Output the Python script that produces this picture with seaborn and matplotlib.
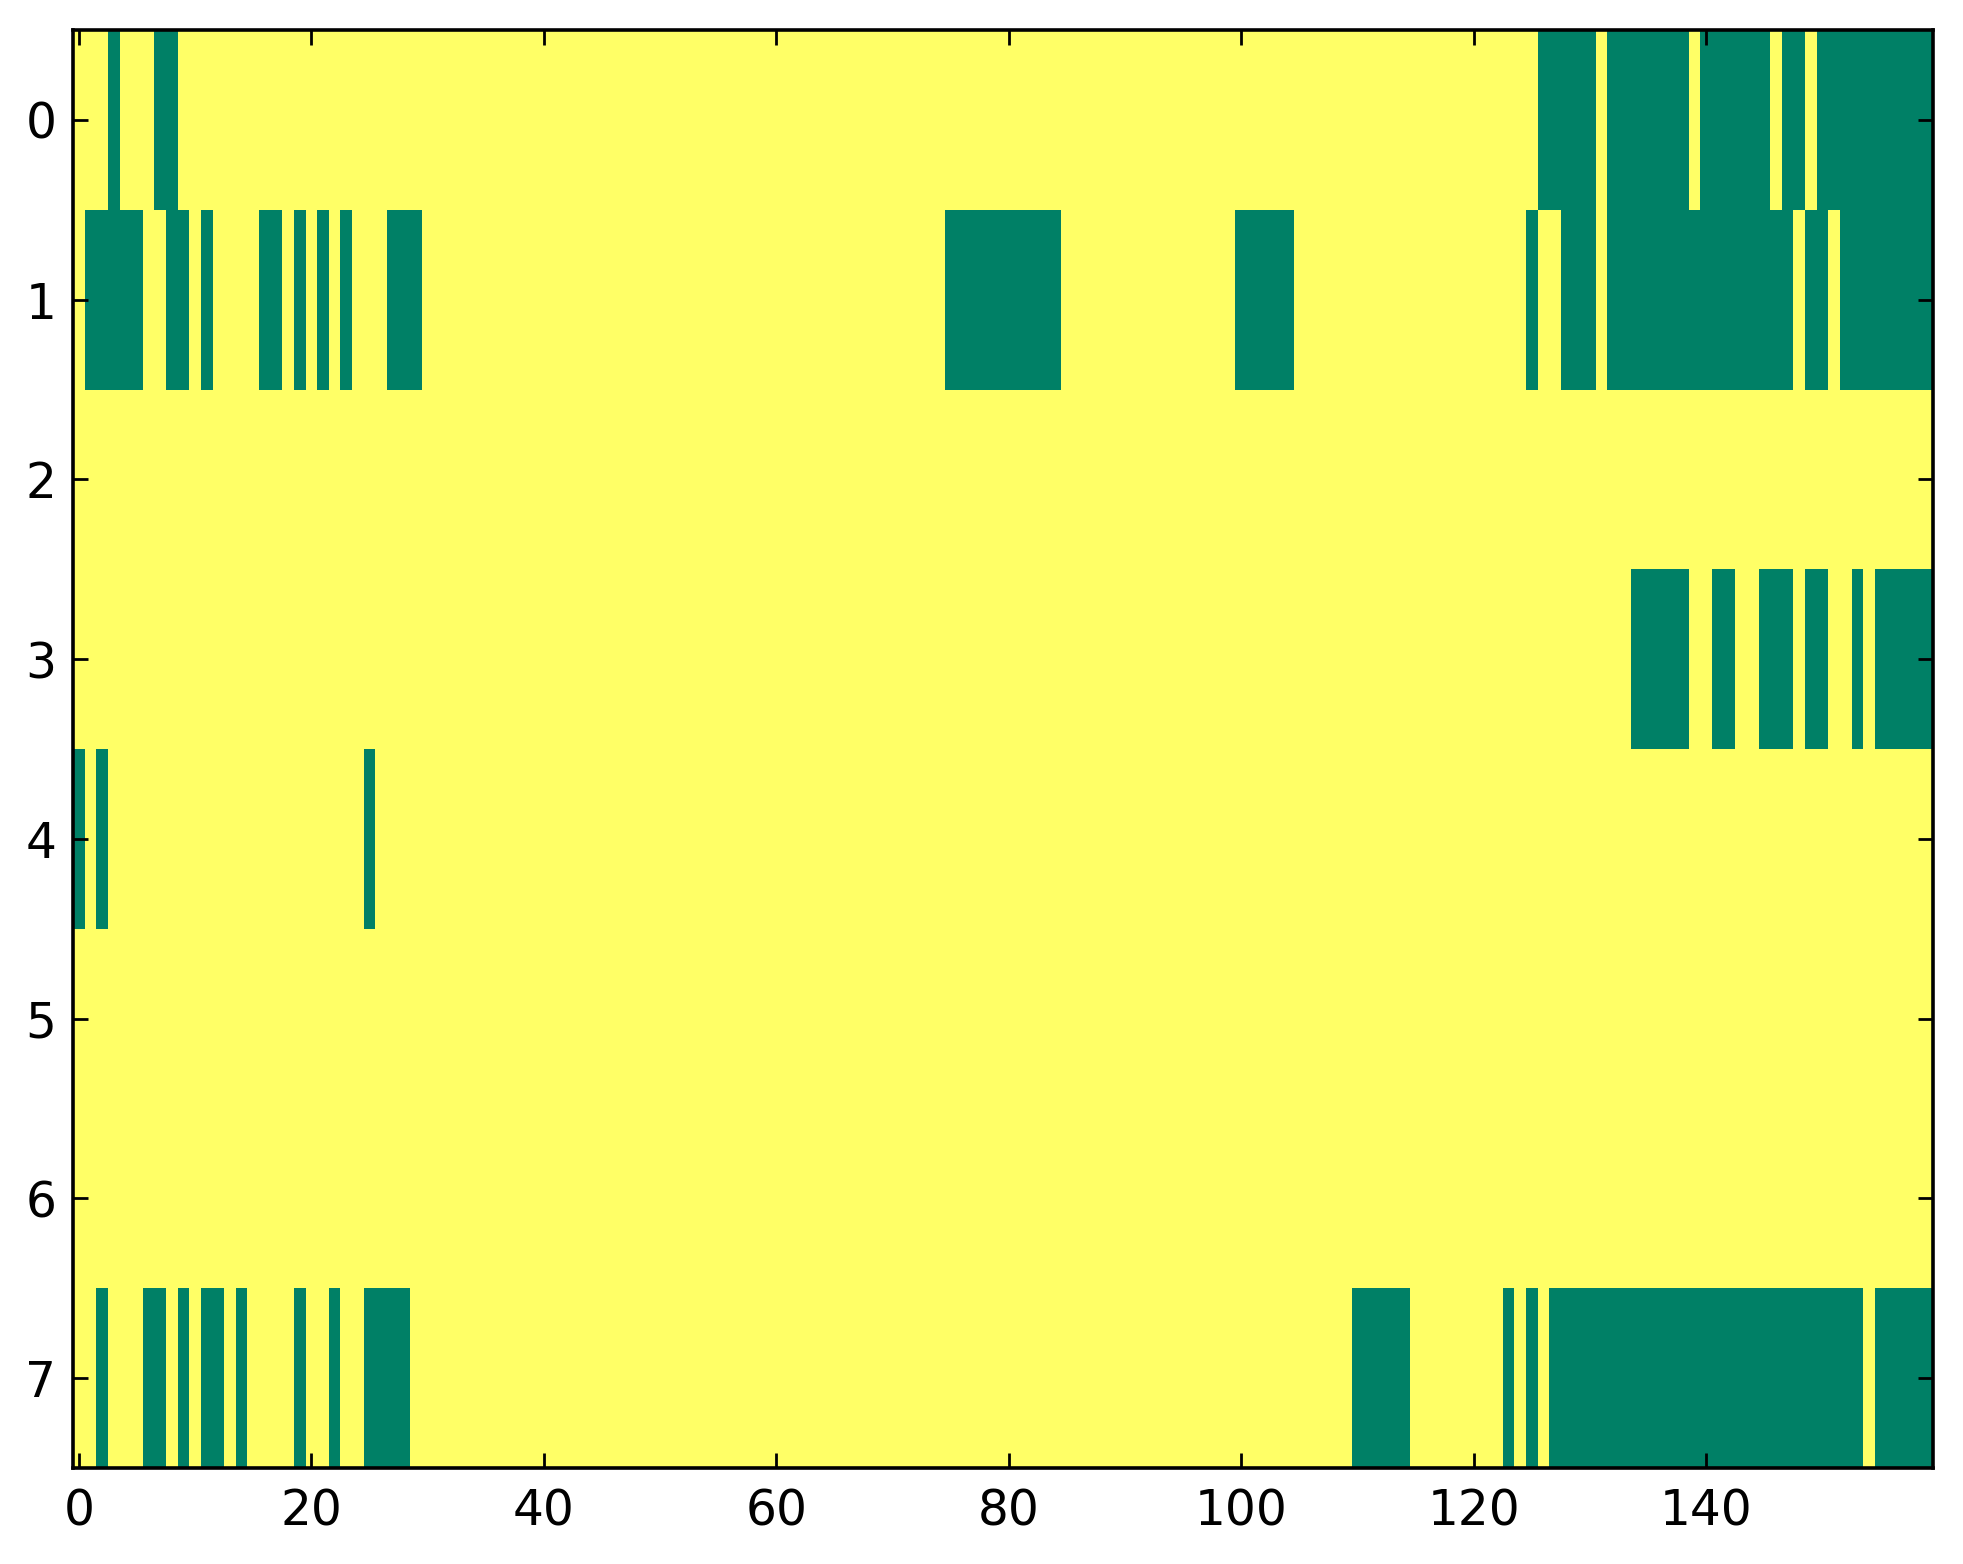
import numpy as np
import pandas as pd
import matplotlib
matplotlib.use('Agg')
import matplotlib.pyplot as plt
import seaborn as sns

# Grid size and tick labels
n_rows = 8
n_cols = 160
x_ticks = [0, 20, 40, 60, 80, 100, 120, 140]
y_ticks = [0, 1, 2, 3, 4, 5, 6, 7]

# Runs of "off" (green) cells per row, as (first column, last column)
row0_off = [(3, 3), (7, 8), (126, 130), (132, 138), (140, 145), (147, 148), (150, 159)]
row1_off = [(1, 5), (8, 9), (11, 11), (16, 17), (19, 19), (21, 21), (23, 23), (27, 29),
            (75, 84), (100, 104), (125, 125), (128, 130), (132, 147), (149, 150), (152, 159)]
row2_off = []
row3_off = [(134, 138), (141, 142), (145, 147), (149, 150), (153, 153), (155, 159)]
row4_off = [(0, 0), (2, 2), (25, 25)]
row5_off = []
row6_off = []
row7_off = [(2, 2), (6, 7), (9, 9), (11, 12), (14, 14), (19, 19), (22, 22), (25, 28),
            (110, 114), (123, 123), (125, 125), (127, 153), (155, 159)]

all_rows = [row0_off, row1_off, row2_off, row3_off, row4_off, row5_off, row6_off, row7_off]


def build_grid():
    grid = np.ones((n_rows, n_cols))
    for r, runs in enumerate(all_rows):
        for start, end in runs:
            grid[r, start:end + 1] = 0
    return pd.DataFrame(grid)


def main():
    plt.rcParams.update({
        'font.family': ['DejaVu Sans'],
        'xtick.direction': 'in',
        'ytick.direction': 'in',
        'xtick.top': True,
        'ytick.right': True,
    })

    data = build_grid()

    fig = plt.figure(figsize=(9.815, 7.82), dpi=200)
    ax = fig.add_axes([0.0372, 0.0614, 0.9475, 0.9194])

    sns.heatmap(data, cmap='summer', vmin=0, vmax=1, cbar=False, ax=ax,
                xticklabels=False, yticklabels=False, linewidths=0)

    ax.set_xticks([t + 0.5 for t in x_ticks])
    ax.set_xticklabels([str(t) for t in x_ticks])
    ax.set_yticks([t + 0.5 for t in y_ticks])
    ax.set_yticklabels([str(t) for t in y_ticks], rotation=0)
    ax.tick_params(axis='both', which='major', length=5.4, width=1.0,
                   labelsize=17.5, colors='black', top=True, right=True,
                   direction='in')
    ax.tick_params(axis='x', pad=7)
    ax.tick_params(axis='y', pad=6)
    ax.set_xlabel('')
    ax.set_ylabel('')

    for spine in ax.spines.values():
        spine.set_visible(True)
        spine.set_linewidth(1.3)
        spine.set_color('black')

    fig.savefig('out.png', dpi=200)


if __name__ == "__main__":
    main()
